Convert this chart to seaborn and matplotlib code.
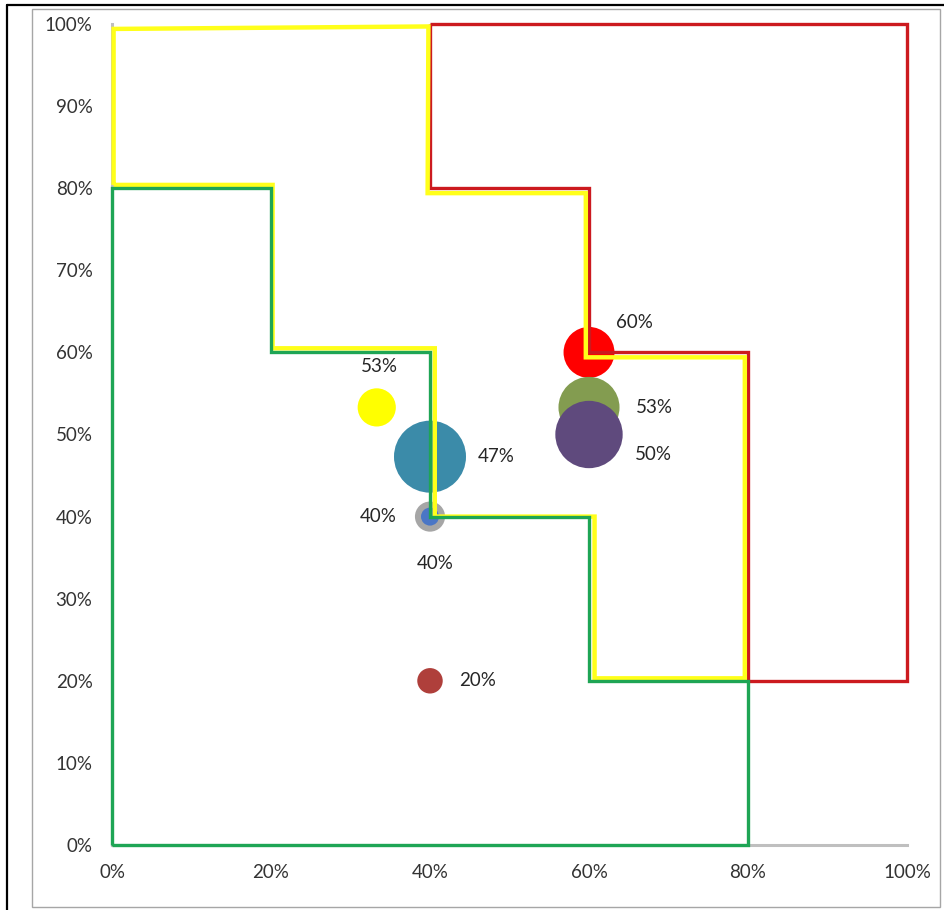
import matplotlib
matplotlib.use("Agg")
import matplotlib.pyplot as plt
import seaborn as sns
import pandas as pd
from matplotlib.lines import Line2D
from matplotlib.patches import Rectangle

# Step outlines (percent coordinates, closed paths)
red_x = [40, 100, 100, 80, 80, 60, 60, 40, 40]
red_y = [100, 100, 20, 20, 60, 60, 80, 80, 100]

yellow_x = [0.2, 0.2, 39.8, 39.7, 59.6, 59.6, 79.6, 79.6, 60.7, 60.7, 40.6, 40.6, 20.2, 20.2, 0.2]
yellow_y = [80.4, 99.4, 99.7, 79.4, 79.4, 59.4, 59.4, 20.3, 20.3, 40.0, 40.0, 60.5, 60.5, 80.4, 80.4]

green_x = [0, 0, 20, 20, 40, 40, 60, 60, 80, 80, 0]
green_y = [0, 80, 80, 60, 60, 40, 40, 20, 20, 0, 0]

# Bubbles
bubble_name = ["red", "olive", "purple", "teal", "yellow", "grey", "blue", "brown"]
bubble_x = [60, 60, 60, 40, 33.3, 40, 40, 40]
bubble_y = [60, 53.3, 50, 47.3, 53.3, 40, 40, 20]
bubble_size = [8, 11.5, 14, 16, 4.5, 2.8, 1, 2]

# Axis ticks
x_ticks = [0, 20, 40, 60, 80, 100]
y_ticks = [0, 10, 20, 30, 40, 50, 60, 70, 80, 90, 100]

bubble_colors = {
    "red": "#FF0000", "olive": "#839C50", "purple": "#5F4A7D", "teal": "#3B8BA9",
    "yellow": "#FFFF00", "grey": "#A6A6A6", "blue": "#4A76C6", "brown": "#AF3F3B",
}
# label offsets in pixels (dx right, dy up)
label_offset = {
    "red": (45, 30), "olive": (65, 0), "purple": (64, -20), "teal": (66, 0),
    "yellow": (3, 41), "grey": (-52, 0), "blue": (5, -47), "brown": (48, 0),
}

sns.set_style("white")
plt.rcParams["font.family"] = ["Lato", "DejaVu Sans"]

W, H = 944, 910
fig = plt.figure(figsize=(W / 100, H / 100), dpi=100)
fig.patch.set_facecolor("white")

# outer frame
fig.add_artist(Line2D([7 / W, 1.0], [1 - 5 / H, 1 - 5 / H], color="black", lw=1.6,
                      transform=fig.transFigure))
fig.add_artist(Line2D([7 / W, 7 / W], [0, 1 - 5 / H], color="black", lw=1.6,
                      transform=fig.transFigure))
fig.add_artist(Rectangle((32 / W, 3 / H), (940 - 32) / W, (907 - 9) / H, fill=False,
                         edgecolor="#A6A6A6", lw=1.0, transform=fig.transFigure))

ax = fig.add_axes([112 / W, 65 / H, 795 / W, 821 / H])
ax.set_xlim(0, 100)
ax.set_ylim(0, 100)

df = pd.DataFrame({"name": bubble_name, "x": bubble_x, "y": bubble_y, "size": bubble_size})
k = 168.0
sns.scatterplot(data=df, x="x", y="y", hue="name", palette=bubble_colors,
                size="size", sizes=(0, k * 16), size_norm=(0, 16),
                linewidth=0, edgecolor="none", alpha=1, legend=False, ax=ax, zorder=2)

lw = 2.4
for xs, ys, col, w in [(red_x, red_y, "#CC1A1F", lw), (yellow_x, yellow_y, "#FFFF1A", lw + 0.8),
                       (green_x, green_y, "#1EA555", lw)]:
    sns.lineplot(x=xs, y=ys, sort=False, estimator=None, color=col, lw=w, ax=ax,
                 zorder=4, clip_on=False, solid_joinstyle="miter", solid_capstyle="butt")

for name, x, y in zip(bubble_name, bubble_x, bubble_y):
    dx, dy = label_offset[name]
    ax.annotate(f"{round(y)}%", (x, y), xytext=(dx * 0.72, dy * 0.72), textcoords="offset points",
                ha="center", va="center", fontsize=13.5, color="#262626", zorder=6)

ax.set_xticks(x_ticks)
ax.set_yticks(y_ticks)
ax.set_xticklabels([f"{t}%" for t in x_ticks])
ax.set_yticklabels([f"{t}%" for t in y_ticks])
ax.set_xlabel("")
ax.set_ylabel("")
for side in ["top", "right"]:
    ax.spines[side].set_visible(False)
for side in ["left", "bottom"]:
    ax.spines[side].set_color("#BFBFBF")
    ax.spines[side].set_linewidth(2.2)
ax.tick_params(axis="y", length=5, width=1.5, color="#BFBFBF", pad=9, labelsize=13.5,
               labelcolor="#333333")
ax.tick_params(axis="x", length=0, pad=14, labelsize=13.5, labelcolor="#333333")
ax.set_facecolor("none")

fig.savefig("out.png", dpi=100)
